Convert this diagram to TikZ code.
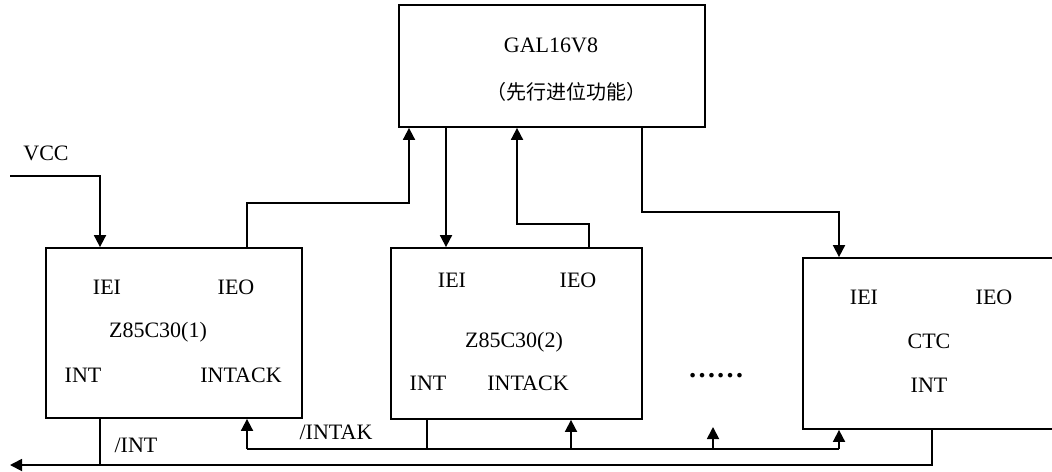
\documentclass[tikz,border=0pt]{standalone}
\usepackage{fontspec}
\setmainfont{Liberation Serif}
\newfontfamily\cjk{Noto Sans CJK SC}
\usetikzlibrary{arrows.meta,positioning,calc}
\tikzset{every picture/.style={line width=0.9pt}}
\tikzset{
  chip/.style={draw, inner sep=0pt},
  pin/.style={font=\fontsize{11}{13}\selectfont, inner sep=1pt},
  arr/.style={-{Triangle[length=6pt,width=6pt]}},
}

\begin{document}
\begin{tikzpicture}[x=0.5pt,y=-0.5pt]
    \useasboundingbox (0,0) rectangle (1052,471);
    \clip (0,0) rectangle (1052,471);

    % Chips
    \node[chip, minimum width=153pt, minimum height=61pt] (gal) at (552,66) {};
    \node[chip, minimum width=128pt, minimum height=85pt] (box1) at (174,333) {};
    \node[chip, minimum width=125.5pt, minimum height=85.5pt] (box2) at (516.5,333.5) {};
    \node[chip, minimum width=129.5pt, minimum height=85.5pt] (ctc) at (932.5,343.5) {};

    % GAL labels
    \node[pin] (galname) at (551,45) {GAL16V8};
    \node[pin, font=\cjk\fontsize{10}{12}\selectfont] (galfunc) at (566,92) {（先行进位功能）};

    % Z85C30(1) labels
    \node[pin] (iei1) at (107,287) {IEI};
    \node[pin] (ieo1) at (236,287) {IEO};
    \node[pin] (name1) at (158,332) {Z85C30(1)};
    \node[pin] (int1) at (83,375) {INT};
    \node[pin] (intack1) at (241,375) {INTACK};

    % Z85C30(2) labels
    \node[pin] (iei2) at (452,280) {IEI};
    \node[pin] (ieo2) at (578,280) {IEO};
    \node[pin] (name2) at (514,342) {Z85C30(2)};
    \node[pin] (int2) at (428,383) {INT};
    \node[pin] (intack2) at (528,383) {INTACK};

    % CTC labels
    \node[pin] (iei3) at (864,297) {IEI};
    \node[pin] (ieo3) at (994,297) {IEO};
    \node[pin] (name3) at (929,341) {CTC};
    \node[pin] (int3) at (929,385) {INT};

    % Other texts
    \node[pin] (vcc) at (46,153) {VCC};
    \node[pin] (intlbl) at (136,445) {/INT};
    \node[pin] (intaklbl) at (336,432) {/INTAK};
    \node[pin, font=\fontsize{14}{14}\selectfont\bfseries] (dots) at (716,376) {……};

    % Daisy chain
    \coordinate (vccin) at (10,176);
    \draw[arr] (vccin) -| (box1.north -| 100,0);
    \draw[arr] (box1.north -| 247,0) -- (247,203) -| (gal.south -| 409,0);
    \draw[arr] (gal.south -| 446,0) -- (box2.north -| 446,0);
    \draw[arr] (box2.north -| 589,0) -- (589,224) -| (gal.south -| 517,0);
    \draw[arr] (gal.south -| 642,0) -- (642,212) -| (ctc.north -| 839,0);

    % /INT bus
    \coordinate (intout) at (10,465);
    \draw[arr] (ctc.south -| 932,0) |- (intout);
    \draw (box1.south -| 100,0) -- (100,465);
    \draw (box2.south -| 427,0) -- (427,449);

    % /INTAK bus
    \draw (247,449) -- (839,449);
    \draw[arr] (247,449) -- (box1.south -| 247,0);
    \draw[arr] (571,449) -- (box2.south -| 571,0);
    \draw[arr] (713,449) -- (713,427);
    \draw[arr] (839,449) -- (ctc.south -| 839,0);
\end{tikzpicture}
\end{document}
